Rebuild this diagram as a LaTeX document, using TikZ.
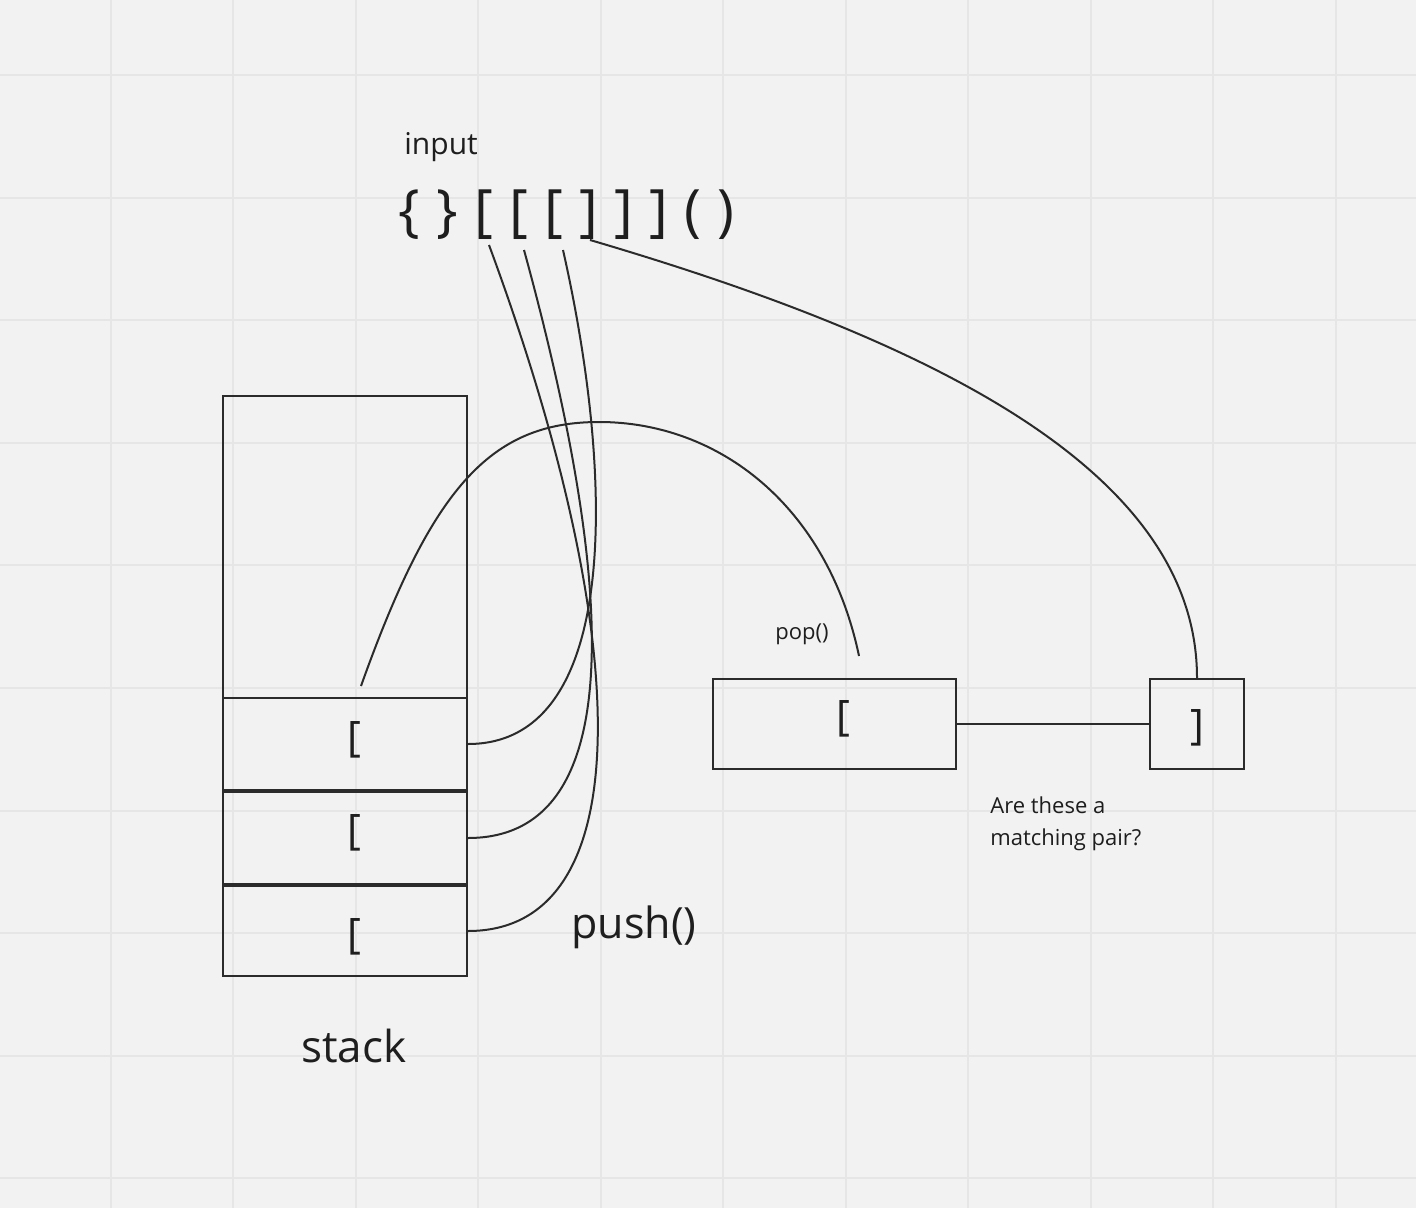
\documentclass[tikz,border=0pt]{standalone}
\usepackage{fontspec}
\setmainfont{Open Sans}
\usetikzlibrary{positioning}
\definecolor{board}{HTML}{F2F2F2}
\definecolor{gridline}{HTML}{E6E6E6}
\definecolor{ink}{HTML}{2B2B2B}
\definecolor{letter}{HTML}{1E1E1E}
\tikzset{
  cell/.style = {draw = ink, line width = 1pt, minimum width = 122pt, minimum height = 46pt, inner sep = 0pt},
  brk/.style = {inner sep = 0pt, text = letter, font = \fontsize{21}{21}\selectfont},
  wire/.style = {draw = ink, line width = 1pt},
  words/.style = {inner sep = 0pt, anchor = base west, text = letter}
}
\begin{document}
\begin{tikzpicture}[x = 0.5pt, y = -0.5pt]
			\fill[board] (0, 0) rectangle (1416, 1208);
			\useasboundingbox (0, 0) rectangle (1416, 1208);
			\foreach \i in {0,...,10} \draw[gridline, line width = 1pt] ({110.5 + 122.5*\i}, 0) -- ({110.5 + 122.5*\i}, 1208);
			\foreach \j in {0,...,9} \draw[gridline, line width = 1pt] (0, {75 + 122.6*\j}) -- (1416, {75 + 122.6*\j});
			
			\node[cell, minimum height = 151pt] (empty) at (345, 547) {};
			\node[cell] (top) at (345, 744) {};
			\node[cell] (mid) at (345, 838) {};
			\node[cell, minimum height = 45pt] (bot) at (345, 931) {};
			\node[brk] (topbrk) at (354, 740) {[};
			\node[brk] (midbrk) at (354, 833) {[};
			\node[brk] (botbrk) at (354, 937) {[};
			
			\node[cell, minimum width = 121.5pt, minimum height = 45pt] (popped) at (834.5, 724) {};
			\node[cell, minimum width = 47pt, minimum height = 45pt] (closer) at (1197, 724) {};
			\node[brk] (popbrk) at (843, 719) {[};
			\node[brk] (closebrk) at (1197, 728) {]};
			\draw[wire] (popped.east) -- (closer.west);
			
			\node[words, font = \fontsize{15}{18}\selectfont] (inlabel) at (404, 155) {input};
			\node[words, font = \fontsize{28.5}{30}\selectfont] (inseq) at (398, 231) {\spaceskip = \dimexpr\fontdimen2\font + 0.72pt\relax \{ \} [ [ [ ] ] ] ( )};
			\node[words, font = \fontsize{22}{26}\selectfont] (stacklabel) at (301, 1062) {stack};
			\node[words, font = \fontsize{21.5}{26}\selectfont] (pushlabel) at (571, 938) {push()};
			\node[words, font = \fontsize{11}{16}\selectfont] (poplabel) at (775, 639) {pop()};
			\node[words, font = \fontsize{11}{16}\selectfont, align = left] (question) at (990, 845) {Are these a\\matching pair?};
			
			\coordinate (open1) at (489, 245);
			\coordinate (open2) at (524, 250);
			\coordinate (open3) at (563, 250);
			\coordinate (close1) at (590, 240);
			\coordinate (grab) at (361, 686);
			\coordinate (crest) at (599, 422);
			\coordinate (drop) at (859, 656);
			\draw[wire] (top.east) .. controls (620, 744) and (615, 480) .. (open3);
			\draw[wire] (mid.east) .. controls (625, 838) and (620, 600) .. (open2);
			\draw[wire] (bot.east) .. controls (640, 931) and (635, 640) .. (open1);
			\draw[wire] (grab) .. controls (431, 490) and (489, 422) .. (crest) .. controls (719, 422) and (827.5, 506) .. (drop);
			\draw[wire] (close1) .. controls (930, 340) and (1197, 470) .. (closer.north);
\end{tikzpicture}
\end{document}
